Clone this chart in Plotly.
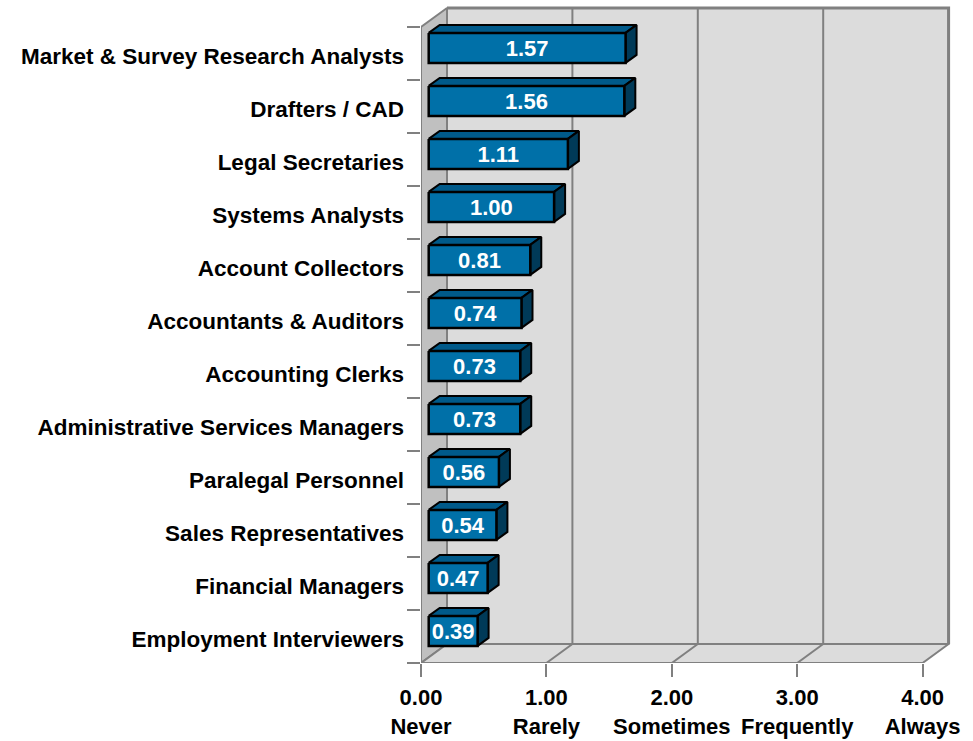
import plotly.graph_objects as go

# ---- data -------------------------------------------------------------
categories = [
    "Market & Survey Research Analysts",
    "Drafters / CAD",
    "Legal Secretaries",
    "Systems Analysts",
    "Account Collectors",
    "Accountants & Auditors",
    "Accounting Clerks",
    "Administrative Services Managers",
    "Paralegal Personnel",
    "Sales Representatives",
    "Financial Managers",
    "Employment Interviewers",
]
values = [1.57, 1.56, 1.11, 1.00, 0.81, 0.74, 0.73, 0.73, 0.56, 0.54, 0.47, 0.39]
tick_values = [0, 1, 2, 3, 4]
tick_numbers = ["0.00", "1.00", "2.00", "3.00", "4.00"]
tick_words = ["Never", "Rarely", "Sometimes", "Frequently", "Always"]

# ---- geometry of the pseudo-3D box ----------------------------------
W, H = 973, 741
M_L, M_R, M_T, M_B = 421, 18, 5, 78
PX_X = 125.4          # pixels per value unit
PX_Y = 53.0           # pixels per category
plot_w = W - M_L - M_R
plot_h = H - M_T - M_B

X_MAX = 4
N = len(categories)
Y_TOP, Y_BOT = -0.5, N - 0.5

WALL_DX = 26 / PX_X   # depth offset of the back wall
WALL_DY = 19 / PX_Y
BAR_X0 = 7.7 / PX_X   # depth position of bar front face
BAR_Y0 = 5.6 / PX_Y
BAR_DX = 11 / PX_X    # bar thickness (depth)
BAR_DY = 8 / PX_Y
BAR_H = 30 / PX_Y
LABEL_DY = 3 / PX_Y   # optical centring of the value text

FONT = "Liberation Sans, Arial, Helvetica, sans-serif"
GRID = "#808080"
BACK = "#DCDCDC"
SIDE_WALL = "#C0C0C0"
FRONT_C = "#0070A8"
TOP_C = "#005A8A"
SIDE_C = "#003A58"

fig = go.Figure()


def poly(xs, ys, fill, lc, lw):
    fig.add_trace(go.Scatter(
        x=list(xs) + [xs[0]], y=list(ys) + [ys[0]],
        mode="lines", fill="toself", fillcolor=fill,
        line=dict(color=lc, width=lw), hoverinfo="skip", showlegend=False))


def seg(xs, ys, lc, lw):
    fig.add_trace(go.Scatter(
        x=xs, y=ys, mode="lines", line=dict(color=lc, width=lw),
        hoverinfo="skip", showlegend=False))


# back wall
poly([WALL_DX, X_MAX + WALL_DX, X_MAX + WALL_DX, WALL_DX],
     [Y_TOP - WALL_DY, Y_TOP - WALL_DY, Y_BOT - WALL_DY, Y_BOT - WALL_DY],
     BACK, GRID, 2)
# left wall
poly([0, WALL_DX, WALL_DX, 0],
     [Y_TOP, Y_TOP - WALL_DY, Y_BOT - WALL_DY, Y_BOT],
     SIDE_WALL, GRID, 2)
# floor
poly([0, X_MAX, X_MAX + WALL_DX, WALL_DX],
     [Y_BOT, Y_BOT, Y_BOT - WALL_DY, Y_BOT - WALL_DY],
     BACK, GRID, 2)
# value gridlines on back wall and floor
for t in tick_values[1:-1]:
    seg([t + WALL_DX, t + WALL_DX], [Y_TOP - WALL_DY, Y_BOT - WALL_DY], GRID, 2)
    seg([t, t + WALL_DX], [Y_BOT, Y_BOT - WALL_DY], GRID, 2)
# thicker outer edge of back wall
seg([WALL_DX, X_MAX + WALL_DX, X_MAX + WALL_DX],
    [Y_TOP - WALL_DY, Y_TOP - WALL_DY, Y_BOT - WALL_DY], GRID, 3)

# bars (front, top, side faces)
for i, v in enumerate(values):
    yc = i - BAR_Y0
    y1, y2 = yc - BAR_H / 2, yc + BAR_H / 2
    x1, x2 = BAR_X0, BAR_X0 + v
    poly([x1, x2, x2 + BAR_DX, x1 + BAR_DX], [y1, y1, y1 - BAR_DY, y1 - BAR_DY],
         TOP_C, "black", 2)
    poly([x2, x2 + BAR_DX, x2 + BAR_DX, x2], [y1, y1 - BAR_DY, y2 - BAR_DY, y2],
         SIDE_C, "black", 2)
    poly([x1, x2, x2, x1], [y1, y1, y2, y2], FRONT_C, "black", 2.5)

# value labels
fig.add_trace(go.Scatter(
    x=[BAR_X0 + v / 2 for v in values],
    y=[i - BAR_Y0 + LABEL_DY for i in range(N)],
    mode="text", text=[f"{v:.2f}" for v in values],
    textfont=dict(family=FONT, size=22, color="white", weight="bold"),
    hoverinfo="skip", showlegend=False))

fig.update_layout(
    width=W, height=H,
    margin=dict(l=M_L, r=M_R, t=M_T, b=M_B),
    paper_bgcolor="white", plot_bgcolor="white",
    showlegend=False,
    xaxis=dict(
        range=[0, plot_w / PX_X], showgrid=False, zeroline=False, showline=False,
        automargin=False,
        tickmode="array", tickvals=tick_values,
        ticktext=[f"{a}<br>{b}" for a, b in zip(tick_numbers, tick_words)],
        ticks="outside", ticklen=13, tickwidth=2, tickcolor=GRID,
        ticklabelstandoff=2,
        tickfont=dict(family=FONT, size=22, color="black", weight="bold"),
    ),
    yaxis=dict(
        range=[Y_BOT, Y_BOT - plot_h / PX_Y], showgrid=False, zeroline=False,
        showline=False, automargin=False,
        tickmode="array", tickvals=list(range(N)), ticktext=categories,
        ticks="", ticklabelstandoff=16, ticklabelshift=-3,
        tickfont=dict(family=FONT, size=22.5, color="black", weight="bold"),
        minor=dict(tickmode="array",
                   tickvals=[k - 0.5 for k in range(N + 1)],
                   ticks="outside", ticklen=13, tickwidth=2, tickcolor=GRID),
    ),
)

fig.write_html("out.html")
